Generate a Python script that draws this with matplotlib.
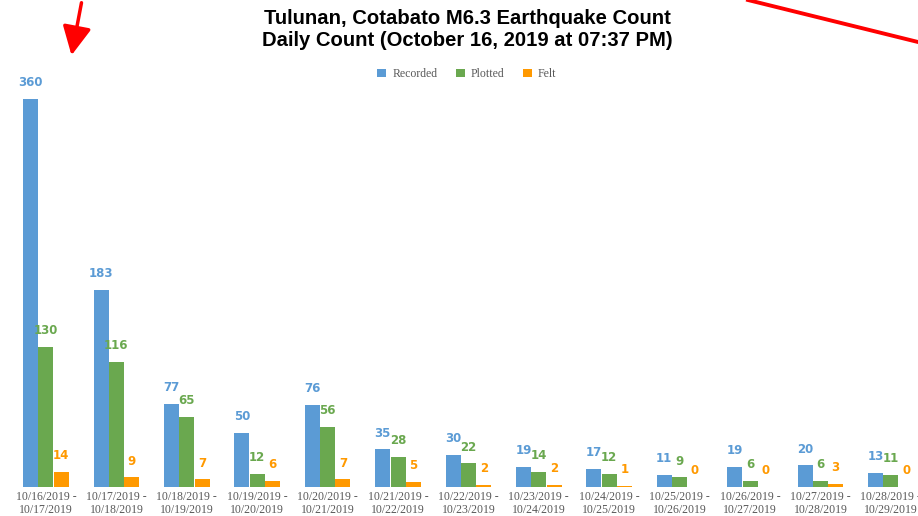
import numpy as np
import matplotlib.pyplot as plt
from matplotlib.patches import FancyArrowPatch
from matplotlib.lines import Line2D

# data
periods = ["10/16/2019 -\n10/17/2019", "10/17/2019 -\n10/18/2019", "10/18/2019 -\n10/19/2019",
           "10/19/2019 -\n10/20/2019", "10/20/2019 -\n10/21/2019", "10/21/2019 -\n10/22/2019",
           "10/22/2019 -\n10/23/2019", "10/23/2019 -\n10/24/2019", "10/24/2019 -\n10/25/2019",
           "10/25/2019 -\n10/26/2019", "10/26/2019 -\n10/27/2019", "10/27/2019 -\n10/28/2019",
           "10/28/2019 -\n10/29/2019"]
recorded = [360, 183, 77, 50, 76, 35, 30, 19, 17, 11, 19, 20, 13]
plotted = [130, 116, 65, 12, 56, 28, 22, 14, 12, 9, 6, 6, 11]
felt = [14, 9, 7, 6, 7, 5, 2, 2, 1, 0, 0, 3, 0]

series = [("Recorded", recorded, "#5b9bd5"),
          ("Plotted", plotted, "#6aa84f"),
          ("Felt", felt, "#ff9900")]

fig = plt.figure(figsize=(9.18, 5.16), dpi=100)
W, H = 918, 516
# plot area: baseline at y=487px, top at y=60px
ax = fig.add_axes([0, (H - 487) / H, 1, 427 / H])

x = np.arange(len(periods))
step = 70.4
ax.set_xlim(-46 / step, (W - 46) / step)
ax.set_ylim(0, 427 / 1.078)

bw = 15 / step
for k, (name, vals, col) in enumerate(series):
    pos = x + (k - 1) * bw * 1.02
    bars = ax.bar(pos, vals, width=bw, color=col, label=name)
    for p, v in zip(pos, vals):
        ax.annotate(str(v), (p, v), xytext=(0, 7), textcoords="offset points",
                    ha="center", va="bottom", fontsize=8.5, fontweight="bold",
                    color=col, family="DejaVu Sans")

for s in ax.spines.values():
    s.set_visible(False)
ax.set_yticks([])
ax.set_xticks(x)
ax.set_xticklabels(periods, fontsize=8.5, color="#595959", family="Liberation Serif",
                   linespacing=1.05)
ax.tick_params(axis="x", length=0, pad=3)

fig.text(467 / W, 1 - 29 / H, "Tulunan, Cotabato M6.3 Earthquake Count\nDaily Count (October 16, 2019 at 07:37 PM)",
         ha="center", va="center", fontsize=14.6, fontweight="bold",
         family="Liberation Sans", linespacing=1.2)

leg = fig.legend(loc="center", bbox_to_anchor=(467 / W, 1 - 74 / H), ncol=3, frameon=False,
                 prop={"family": "Liberation Serif", "size": 8.5}, handlelength=0.75,
                 handleheight=0.75, columnspacing=1.6, handletextpad=0.5)
for t in leg.get_texts():
    t.set_color("#595959")

# red annotation marks on the screenshot
arrow = FancyArrowPatch((82 / W, 1.0), (71 / W, 1 - 58 / H), transform=fig.transFigure,
                        arrowstyle="-|>,head_length=7,head_width=3.5", color="red",
                        lw=2.5, mutation_scale=2.5)
fig.add_artist(arrow)
fig.add_artist(Line2D([748 / W, 1.0], [1.0, 1 - 42 / H], transform=fig.transFigure,
                      color="red", lw=2.8))

fig.savefig("out.png", dpi=100)
